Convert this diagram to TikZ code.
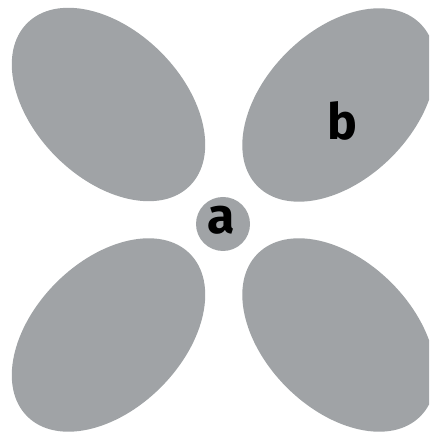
\documentclass[tikz,border=0pt]{standalone}
\usepackage{fontspec}
\setmainfont{Fira Sans}
\definecolor{blob}{RGB}{160,163,166}
\begin{document}
\begin{tikzpicture}[x=1pt,y=1pt,
  lobe/.style={fill=blob},
  lbl/.style={font=\fontsize{50}{50}\selectfont\bfseries, text=black, inner sep=0pt}]
\useasboundingbox (0,0) rectangle (429,433);
\clip (0,0) rectangle (429,433);
\fill[lobe, rotate around={-45:(108.5,328.5)}] (108.5,328.5) ellipse [x radius=115, y radius=74];
\fill[lobe, rotate around={45:(339,328)}] (339,328) ellipse [x radius=115, y radius=74];
\fill[lobe, rotate around={45:(108.5,98)}] (108.5,98) ellipse [x radius=115, y radius=74];
\fill[lobe, rotate around={-45:(339,98)}] (339,98) ellipse [x radius=115, y radius=74];
\fill[lobe] (223,209) circle [radius=27];
\node[lbl] (a) at (221,212.5) {a};
\node[lbl] (b) at (342.5,312) {b};
\end{tikzpicture}
\end{document}
